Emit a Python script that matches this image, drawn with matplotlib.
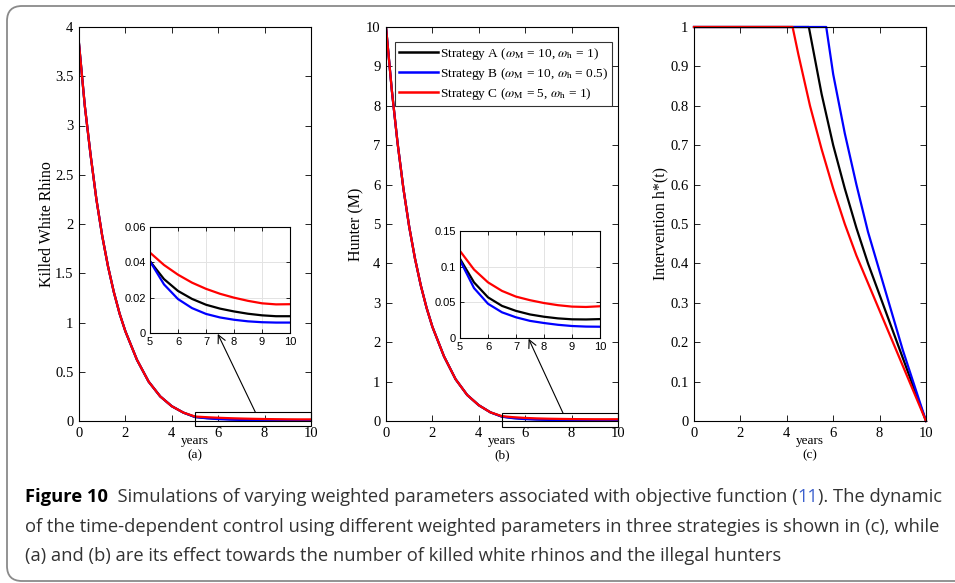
import matplotlib
matplotlib.use('Agg')
import matplotlib.pyplot as plt
from matplotlib.patches import Rectangle, PathPatch
from matplotlib.path import Path
from matplotlib.ticker import FuncFormatter

# ---------------------------------------------------------------- data
t_early = [0, 0.25, 0.5, 0.75, 1.0, 1.25, 1.5, 1.75, 2.0, 2.5, 3.0, 3.5, 4.0, 4.5]
t_late = [5, 5.5, 6, 6.5, 7, 7.5, 8, 8.5, 9, 9.5, 10]

killed_early = [3.83, 3.2, 2.7, 2.25, 1.88, 1.57, 1.31, 1.09, 0.91, 0.62, 0.40, 0.25, 0.15, 0.085]
killed_A = [0.0406, 0.0305, 0.0238, 0.0193, 0.0160, 0.0138, 0.0122, 0.0109, 0.0100, 0.0095, 0.0095]
killed_B = [0.0406, 0.0275, 0.0192, 0.0141, 0.0108, 0.0088, 0.0075, 0.0066, 0.0061, 0.0059, 0.0059]
killed_C = [0.0455, 0.0385, 0.0330, 0.0285, 0.0250, 0.0222, 0.0200, 0.0182, 0.0168, 0.0162, 0.0163]

hunter_early = [10.0, 8.4, 7.05, 5.9, 4.93, 4.12, 3.44, 2.87, 2.39, 1.64, 1.06, 0.66, 0.40, 0.22]
hunter_A = [0.111, 0.078, 0.057, 0.045, 0.038, 0.033, 0.0298, 0.0275, 0.0262, 0.026, 0.0265]
hunter_B = [0.109, 0.070, 0.048, 0.036, 0.029, 0.024, 0.021, 0.0185, 0.0168, 0.016, 0.0158]
hunter_C = [0.122, 0.096, 0.078, 0.066, 0.058, 0.053, 0.049, 0.046, 0.044, 0.0435, 0.0445]

t_h_A = [0, 4.95, 5.5, 6, 6.5, 7, 7.5, 8, 8.5, 9, 9.5, 10]
h_A = [1, 1, 0.83, 0.70, 0.59, 0.49, 0.40, 0.32, 0.24, 0.16, 0.08, 0.0]
t_h_B = [0, 5.7, 6, 6.5, 7, 7.5, 8, 8.5, 9, 9.5, 10]
h_B = [1, 1, 0.88, 0.73, 0.60, 0.48, 0.38, 0.28, 0.18, 0.09, 0.0]
t_h_C = [0, 4.25, 4.5, 5, 5.5, 6, 6.5, 7, 7.5, 8, 8.5, 9, 9.5, 10]
h_C = [1, 1, 0.93, 0.80, 0.69, 0.59, 0.50, 0.42, 0.35, 0.28, 0.21, 0.14, 0.07, 0.0]

labels = [r'Strategy A ($\omega_{\rm M}$ = 10, $\omega_{\rm h}$ = 1)',
          r'Strategy B ($\omega_{\rm M}$ = 10, $\omega_{\rm h}$ = 0.5)',
          r'Strategy C ($\omega_{\rm M}$ = 5, $\omega_{\rm h}$ = 1)']
colors = ['black', '#0000ff', '#ff0000']

SERIF = 'Liberation Serif'
SANS = 'Liberation Sans'
plt.rcParams.update({
    'font.family': SERIF,
    'mathtext.fontset': 'stix',
    'axes.linewidth': 0.8,
})

W, H = 955, 583
fig = plt.figure(figsize=(9.55, 5.83), dpi=100)


def rect(x0, y0, x1, y1):
    return [x0 / W, 1 - y1 / H, (x1 - x0) / W, (y1 - y0) / H]


def g(v, _):
    return f'{v:g}'


def style_main(ax, yticks, ylim):
    ax.set_xlim(0, 10)
    ax.set_ylim(*ylim)
    ax.set_xticks([0, 2, 4, 6, 8, 10])
    ax.set_yticks(yticks)
    ax.yaxis.set_major_formatter(FuncFormatter(g))
    ax.tick_params(direction='in', top=True, right=True, length=4,
                   labelsize=10.5, width=0.6, pad=4)


def style_inset(ax, yticks):
    ax.set_xlim(5, 10)
    ax.set_ylim(yticks[0], yticks[-1])
    ax.set_xticks([5, 6, 7, 8, 9, 10])
    ax.set_yticks(yticks)
    ax.yaxis.set_major_formatter(FuncFormatter(g))
    ax.grid(True, color='#e3e3e3', lw=0.7)
    ax.set_axisbelow(True)
    ax.tick_params(direction='in', top=True, right=True, length=3,
                   labelsize=8, width=0.6, pad=3)
    for lab in ax.get_xticklabels() + ax.get_yticklabels():
        lab.set_family(SANS)


def xlab(ax, tag):
    ax.text(0.5, -0.035, 'years', transform=ax.transAxes, ha='center',
            va='top', fontsize=9.5)
    ax.text(0.5, -0.072, tag, transform=ax.transAxes, ha='center',
            va='top', fontsize=9.5)


def zoom_arrow(ax, inset, tip, tail):
    ax.annotate('', xy=tip, xycoords=inset.transData,
                xytext=tail, textcoords=ax.transData,
                arrowprops=dict(arrowstyle='->', color='black', lw=0.8,
                                shrinkA=0, shrinkB=0, mutation_scale=14),
                annotation_clip=False)


# ---------------------------------------------------------------- (a)
axa = fig.add_axes(rect(79, 27, 311, 421))
for late, c in zip([killed_A, killed_B, killed_C], colors):
    axa.plot(t_early + t_late, killed_early + late, color=c, lw=1.6)
style_main(axa, [0, 0.5, 1, 1.5, 2, 2.5, 3, 3.5, 4], (0, 4))
axa.set_ylabel('Killed White Rhino', fontsize=11.5, labelpad=0)
xlab(axa, '(a)')
axa.add_patch(Rectangle((5, -0.05), 5, 0.14, fill=False, ec='black', lw=0.8,
                        clip_on=False, zorder=5))

ina = fig.add_axes(rect(150, 227, 290, 333))
for late, c in zip([killed_A, killed_B, killed_C], colors):
    ina.plot(t_late, late, color=c, lw=1.6)
style_inset(ina, [0, 0.02, 0.04, 0.06])
zoom_arrow(axa, ina, (7.42, -0.0005), (7.6, 0.09))

# ---------------------------------------------------------------- (b)
axb = fig.add_axes(rect(386, 27, 618, 421))
for late, c, lab in zip([hunter_A, hunter_B, hunter_C], colors, labels):
    axb.plot(t_early + t_late, hunter_early + late, color=c, lw=1.6, label=lab)
style_main(axb, list(range(0, 11)), (0, 10))
axb.set_ylabel('Hunter (M)', fontsize=11.5, labelpad=1)
xlab(axb, '(b)')
axb.add_patch(Rectangle((5, -0.15), 5, 0.35, fill=False, ec='black', lw=0.8,
                        clip_on=False, zorder=5))
leg = axb.legend(loc='upper right', bbox_to_anchor=(0.975, 0.963),
                 fontsize=9.6, frameon=True, fancybox=False, handlelength=2.9,
                 handletextpad=0.15, borderpad=0.3, labelspacing=0.3,
                 borderaxespad=0)
leg.get_frame().set_edgecolor('black')
leg.get_frame().set_linewidth(0.8)
for ln in leg.get_lines():
    ln.set_linewidth(1.8)

inb = fig.add_axes(rect(460, 231, 600, 338))
for late, c in zip([hunter_A, hunter_B, hunter_C], colors):
    inb.plot(t_late, late, color=c, lw=1.6)
style_inset(inb, [0, 0.05, 0.1, 0.15])
zoom_arrow(axb, inb, (7.45, -0.001), (7.63, 0.2))

# ---------------------------------------------------------------- (c)
axc = fig.add_axes(rect(694, 27, 926, 421))
for tt, hh, c in zip([t_h_A, t_h_B, t_h_C], [h_A, h_B, h_C], colors):
    axc.plot(tt, hh, color=c, lw=1.6, clip_on=False)
style_main(axc, [0, 0.1, 0.2, 0.3, 0.4, 0.5, 0.6, 0.7, 0.8, 0.9, 1], (0, 1))
axc.set_ylabel('Intervention h*(t)', fontsize=11.5, labelpad=1)
xlab(axc, '(c)')

# ---------------------------------------------------------------- frame (open on the right)
top, bot, lx, rr = H - 6, H - 581, 7, 15
verts = [(W + 5, top), (lx + rr, top), (lx, top), (lx, top - rr),
         (lx, bot + rr), (lx, bot), (lx + rr, bot), (W + 5, bot)]
codes = [Path.MOVETO, Path.LINETO, Path.CURVE3, Path.CURVE3,
         Path.LINETO, Path.CURVE3, Path.CURVE3, Path.LINETO]
fig.patches.append(PathPatch(Path(verts, codes), transform=None, fill=False,
                             ec='#8a8a8a', lw=1.3, figure=fig))

# ---------------------------------------------------------------- caption
CAP = '#333333'
CF = 'Open Sans'
fs = 13.2
r = fig.canvas.get_renderer()
y1, y2, y3 = 1 - 497 / H, 1 - 527 / H, 1 - 556 / H
x0 = 25 / W


def put(x, y, s, **kw):
    t = fig.text(x, y, s, ha='left', va='center', fontsize=fs, family=CF,
                 color=kw.pop('color', CAP), **kw)
    bb = t.get_window_extent(renderer=r)
    return x + bb.width / W


x = put(x0, y1, 'Figure 10', weight='bold', color='black')
x = put(x, y1, '  Simulations of varying weighted parameters associated with objective function (')
x = put(x, y1, '11', color='#3a5fcd')
put(x, y1, '). The dynamic')
put(x0, y2, 'of the time-dependent control using different weighted parameters in three strategies is shown in (c), while')
put(x0, y3, '(a) and (b) are its effect towards the number of killed white rhinos and the illegal hunters')

fig.savefig('out.png', dpi=100)
